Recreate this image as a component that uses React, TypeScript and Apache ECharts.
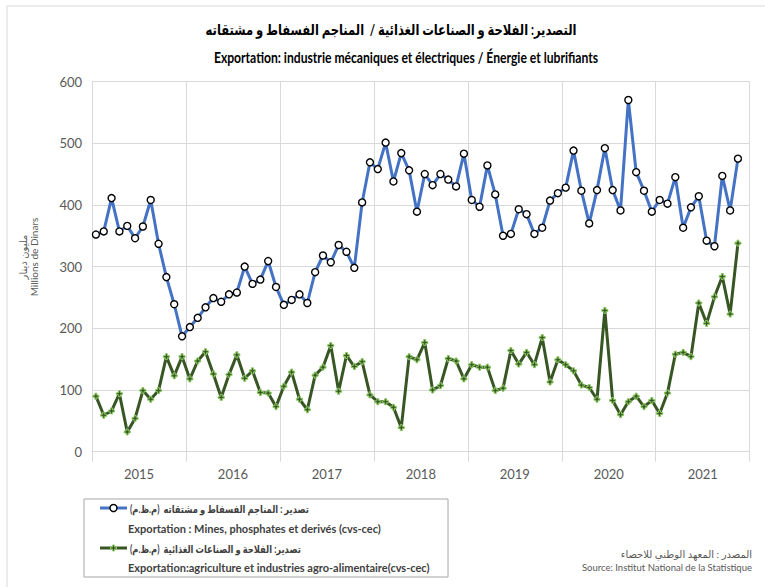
import React, { useEffect, useRef } from "react";
import * as echarts from "echarts";

const years = ["2015", "2016", "2017", "2018", "2019", "2020", "2021"];
const monthNames = ["Jan", "Feb", "Mar", "Apr", "May", "Jun", "Jul", "Aug", "Sep", "Oct", "Nov", "Dec"];
const monthCategories = years.flatMap((y) => monthNames.map((m) => `${m} ${y}`));

// Exportation : Mines, phosphates et dérivés (cvs-cec), Jan 2015 – Nov 2021
const minesValues = [
  352, 357, 411, 357, 366, 346, 365, 408, 337, 283, 239, 187,
  202, 217, 234, 249, 243, 255, 258, 300, 272, 279, 309, 267,
  238, 246, 255, 241, 291, 318, 307, 335, 324, 298, 404, 469,
  458, 501, 438, 484, 456, 389, 450, 432, 450, 441, 430, 483,
  408, 397, 464, 417, 350, 353, 393, 385, 353, 363, 407, 419,
  428, 488, 423, 370, 424, 492, 424, 391, 570, 453, 423, 389,
  408, 402, 445, 363, 396, 414, 342, 333, 447, 391, 475, null,
];

// Exportation : agriculture et industries agro-alimentaire (cvs-cec)
const agriValues = [
  90, 59, 66, 94, 32, 54, 99, 85, 99, 154, 123, 154,
  118, 147, 162, 126, 88, 125, 157, 119, 131, 96, 95, 73,
  106, 129, 85, 68, 124, 137, 172, 98, 156, 138, 146, 92,
  81, 81, 72, 39, 154, 149, 177, 100, 107, 151, 147, 118,
  141, 137, 137, 99, 103, 164, 142, 161, 141, 185, 113, 149,
  141, 131, 108, 104, 85, 229, 83, 60, 81, 90, 73, 83,
  62, 95, 158, 161, 154, 241, 208, 251, 284, 223, 338, null,
];

const titleAr = "التصدير: الفلاحة و الصناعات الغذائية /  المناجم الفسفاط و مشتقاته";
const titleFr = "Exportation: industrie mécaniques et électriques / Énergie et lubrifiants";
const yTitleAr = "مليون دينار";
const yTitleFr = "Millions de Dinars";
const legendMinesAr = "تصدير : المناجم الفسفاط و مشتقاته  (م.ظ.م)\u200F";
const legendMinesFr = "Exportation : Mines, phosphates et derivés (cvs-cec)";
const legendAgriAr = "تصدير: الفلاحة و الصناعات الغذائية  (م.ظ.م)\u200F";
const legendAgriFr = "Exportation:agriculture et industries agro-alimentaire(cvs-cec)";
const sourceAr = "المصدر : المعهد الوطني للاحصاء";
const sourceFr = "Source: Institut National de la Statistique";

const FONT = "Lato, 'DejaVu Sans', sans-serif";
const BLUE = "#4472C4";
const GREEN = "#375623";
const GREEN_LIGHT = "#8CCB63";
const GRID = "#d9d9d9";
const PLUS = "path://M2,0 L4,0 L4,2 L6,2 L6,4 L4,4 L4,6 L2,6 L2,4 L0,4 L0,2 L2,2 Z";

export default function App() {
  const ref = useRef<HTMLDivElement>(null);
  useEffect(() => {
    document.body.style.margin = "0";
    const chart = echarts.init(ref.current!, null, { renderer: "svg" });
    const option: any = {
      animation: false,
      backgroundColor: "#ffffff",
      textStyle: { fontFamily: FONT },
      grid: { left: 92, top: 81.5, right: 15.3, bottom: 135.3, containLabel: false },
      xAxis: [
        {
          type: "category",
          data: monthCategories,
          boundaryGap: true,
          position: "top",
          show: false,
        },
        {
          type: "category",
          data: years,
          boundaryGap: true,
          position: "bottom",
          axisLine: { show: true, lineStyle: { color: GRID, width: 1 } },
          axisTick: { show: true, length: 10, lineStyle: { color: GRID } },
          splitLine: { show: true, lineStyle: { color: GRID, width: 1 } },
          axisLabel: { color: "#595959", fontSize: 13, margin: 16, fontFamily: FONT },
        },
      ],
      yAxis: {
        type: "value",
        min: 0,
        max: 600,
        interval: 100,
        axisLine: { show: false },
        axisTick: { show: false },
        splitLine: { show: true, lineStyle: { color: GRID, width: 1 } },
        axisLabel: { color: "#595959", fontSize: 13, margin: 10, fontFamily: FONT },
      },
      series: [
        {
          name: legendMinesFr,
          type: "line",
          xAxisIndex: 0,
          data: minesValues,
          symbol: "circle",
          symbolSize: 7,
          showAllSymbol: true,
          lineStyle: { color: BLUE, width: 3 },
          itemStyle: { color: "#ffffff", borderColor: "#000000", borderWidth: 1.4 },
          z: 3,
        },
        {
          name: legendAgriFr,
          type: "line",
          xAxisIndex: 0,
          data: agriValues,
          symbol: PLUS,
          symbolSize: 6,
          showAllSymbol: true,
          lineStyle: { color: GREEN, width: 3 },
          itemStyle: { color: GREEN, borderColor: GREEN_LIGHT, borderWidth: 1 },
          z: 2,
        },
      ],
      graphic: [
        {
          type: "rect",
          shape: { x: 7, y: 6, width: 800, height: 620 },
          style: { fill: "none", stroke: GRID, lineWidth: 1 },
          silent: true,
        },
        {
          type: "text",
          x: 391,
          y: 29,
          scaleX: 0.77,
          style: { text: titleAr, font: `bold 15px ${FONT}`, fill: "#000", align: "center", verticalAlign: "middle" },
        },
        {
          type: "text",
          x: 406,
          y: 58,
          scaleX: 0.81,
          style: { text: titleFr, font: `bold 15px ${FONT}`, fill: "#000", align: "center", verticalAlign: "middle" },
        },
        {
          type: "text",
          x: 28,
          y: 257,
          rotation: Math.PI / 2,
          style: {
            text: `${yTitleAr}\n${yTitleFr}`,
            font: `10px ${FONT}`,
            fill: "#595959",
            align: "center",
            verticalAlign: "middle",
            lineHeight: 11,
          },
        },
        {
          type: "rect",
          shape: { x: 84, y: 499, width: 364, height: 78 },
          style: { fill: "none", stroke: "#a6a6a6", lineWidth: 1 },
        },
        {
          type: "line",
          shape: { x1: 100, y1: 508, x2: 127, y2: 508 },
          style: { stroke: BLUE, lineWidth: 3 },
        },
        {
          type: "circle",
          shape: { cx: 113.5, cy: 508, r: 3.5 },
          style: { fill: "#fff", stroke: "#000", lineWidth: 1.4 },
        },
        {
          type: "text",
          x: 130,
          y: 508,
          scaleX: 0.76,
          style: { text: legendMinesAr, font: `bold 11px ${FONT}`, fill: "#404040", align: "left", verticalAlign: "middle" },
        },
        {
          type: "text",
          x: 128,
          y: 528,
          style: { text: legendMinesFr, font: `bold 11px ${FONT}`, fill: "#404040", align: "left", verticalAlign: "middle" },
        },
        {
          type: "line",
          shape: { x1: 100, y1: 548, x2: 127, y2: 548 },
          style: { stroke: GREEN, lineWidth: 3 },
        },
        {
          type: "polygon",
          shape: {
            points: [
              [112.5, 545], [114.5, 545], [114.5, 547], [116.5, 547], [116.5, 549], [114.5, 549],
              [114.5, 551], [112.5, 551], [112.5, 549], [110.5, 549], [110.5, 547], [112.5, 547],
            ],
          },
          style: { fill: GREEN, stroke: GREEN_LIGHT, lineWidth: 1 },
        },
        {
          type: "text",
          x: 130,
          y: 548,
          scaleX: 0.76,
          style: { text: legendAgriAr, font: `bold 11px ${FONT}`, fill: "#404040", align: "left", verticalAlign: "middle" },
        },
        {
          type: "text",
          x: 128,
          y: 567,
          style: { text: legendAgriFr, font: `bold 11px ${FONT}`, fill: "#404040", align: "left", verticalAlign: "middle" },
        },
        {
          type: "text",
          x: 752,
          y: 554,
          style: { text: sourceAr, font: `10px ${FONT}`, fill: "#595959", align: "right", verticalAlign: "middle" },
        },
        {
          type: "text",
          x: 752,
          y: 567,
          style: { text: sourceFr, font: `9.5px ${FONT}`, fill: "#595959", align: "right", verticalAlign: "middle" },
        },
      ],
    };
    chart.setOption(option);
    return () => chart.dispose();
  }, []);
  return <div ref={ref} style={{ width: 765, height: 587 }} />;
}
